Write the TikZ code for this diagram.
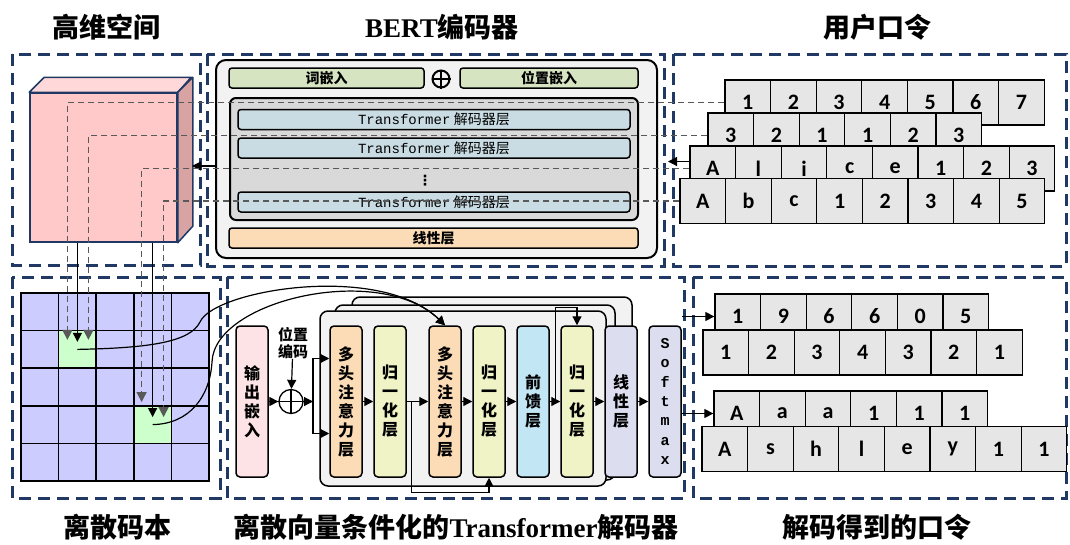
\documentclass[tikz,border=0pt]{standalone}
\usepackage{fontspec}
\setmainfont{Liberation Serif}
\setmonofont{Liberation Mono}
\newfontfamily\cjk{Noto Sans CJK SC}
\newfontfamily\tokfont{Carlito}
\newfontfamily\symfont{DejaVu Sans}
\usetikzlibrary{positioning,calc,arrows.meta}

\definecolor{navy}{HTML}{1F3864}
\definecolor{dashgray}{HTML}{595959}
\definecolor{cubepink}{HTML}{FFC9C9}
\definecolor{cubetop}{HTML}{FFD9D9}
\definecolor{cubeside}{HTML}{D8A3A3}
\definecolor{cellblue}{HTML}{CCCCFF}
\definecolor{cellgreen}{HTML}{CCFFCC}
\definecolor{tokgray}{HTML}{E6E6E6}
\definecolor{panelgray}{HTML}{F2F2F2}
\definecolor{stackgray}{HTML}{D9D9D9}
\definecolor{embgreen}{HTML}{D6E4C2}
\definecolor{layerblue}{HTML}{CADCE3}
\definecolor{peach}{HTML}{FCDCB6}
\definecolor{normyel}{HTML}{F0F3C6}
\definecolor{ffblue}{HTML}{C3E6F5}
\definecolor{lavender}{HTML}{DCDDEE}
\definecolor{embpink}{HTML}{FDE3E5}

\tikzset{
    region/.style={draw=navy, line width=3pt, dash pattern=on 12pt off 7pt},
    title/.style={font=\cjk\bfseries\fontsize{27}{27}\selectfont},
    tok/.style={draw, fill=tokgray, line width=1.3pt, minimum width=45.6pt, minimum height=45pt, inner sep=0pt, font=\tokfont\bfseries\fontsize{22}{22}\selectfont},
    cell/.style={draw, fill=cellblue, line width=1.5pt, minimum size=37.6pt, inner sep=0pt},
    dline/.style={draw=dashgray, line width=1.5pt, dash pattern=on 6pt off 4pt, -{Triangle[length=10pt,width=10pt]}},
    arr/.style={line width=1.2pt, -{Triangle[length=9pt,width=9pt]}},
    bar/.style={draw, line width=1.5pt, rounded corners=3pt, minimum height=20pt, inner sep=0pt},
    blk/.style={draw, rounded corners=4pt, line width=1.5pt, minimum width=32pt, minimum height=151pt, inner sep=0pt, align=center, font=\cjk\bfseries\fontsize{16}{19}\selectfont},
    pan/.style={draw, fill=panelgray, rounded corners=8pt, line width=1.5pt, minimum height=175pt},
    oplus/.style={circle, draw, inner sep=0pt}
}

\begin{document}
\begin{tikzpicture}[x=1pt, y=-1pt, node distance=10.5pt]
\useasboundingbox (0,0) rectangle (1070,544);

\node[title] (tA) at (106,27) {高维空间};
\node[title] (tB) at (442,27) {{\rmfamily BERT}编码器};
\node[title] (tC) at (877,27) {用户口令};
\node[title] (tD) at (117,527) {离散码本};
\node[title] (tE) at (456,527) {离散向量条件化的{\rmfamily Transformer}解码器};
\node[title] (tF) at (877,527) {解码得到的口令};

\draw[region] (12,54) rectangle (200,265);
\draw[region] (207,54) rectangle (664,266);
\draw[region] (673,54) rectangle (1066,266);
\draw[region] (12,277) rectangle (220,498);
\draw[region] (227,277) rectangle (684,498);
\draw[region] (693,277) rectangle (1066,498);

% cube
\node[draw=navy, fill=cubepink, line width=1.5pt, minimum width=147pt, minimum height=149pt] (cube) at (103.5,167.5) {};
\filldraw[draw=navy, fill=cubetop, line width=1.5pt, line join=round] (cube.north west) -- ++(15,-15) -- ++(147,0) -- (cube.north east) -- cycle;
\filldraw[draw=navy, fill=cubeside, line width=1.5pt, line join=round] (cube.north east) -- ++(15,-15) -- ++(0,149) -- (cube.south east) -- cycle;
\coordinate (cubeR) at (192,166);

% codebook
\foreach \r in {1,...,5}
  \foreach \c in {1,...,5}
    \node[cell] (g-\r-\c) at ({21+37.6*(\c-0.5)},{293+37.6*(\r-0.5)}) {};
\node[cell, fill=cellgreen] (hit1) at (g-2-2) {};
\node[cell, fill=cellgreen] (hit2) at (g-4-4) {};

% BERT encoder
\node[draw, fill=panelgray, line width=2pt, rounded corners=10pt, minimum width=441pt, minimum height=198pt] (bert) at (436.5,159) {};
\node[bar, fill=embgreen, minimum width=195pt, font=\cjk\bfseries\fontsize{14}{14}\selectfont] (wemb) at (326.5,78) {词嵌入};
\node[bar, fill=embgreen, minimum width=178pt, font=\cjk\bfseries\fontsize{14}{14}\selectfont] (pemb) at (549,78) {位置嵌入};
\node[oplus, line width=2pt, minimum size=17pt] (add1) at (441,79) {};
\draw[line width=2pt] (add1.north) -- (add1.south) (add1.west) -- (add1.east);
\node[draw, fill=stackgray, line width=2pt, rounded corners=6pt, minimum width=408pt, minimum height=122pt] (stack) at (434,159) {};
\node[bar, fill=layerblue, minimum width=392pt, font=\fontsize{14}{14}\selectfont] (tl1) at (434,119.5) {{\ttfamily Transformer} {\cjk 解码器层}};
\node[bar, fill=layerblue, minimum width=392pt, font=\fontsize{14}{14}\selectfont] (tl2) at (434,148) {{\ttfamily Transformer} {\cjk 解码器层}};
\node[font=\symfont\bfseries\fontsize{14}{14}\selectfont] (vd) at (425,181) {⋮};
\node[bar, fill=layerblue, minimum width=392pt, font=\fontsize{14}{14}\selectfont] (tl3) at (434,202) {{\ttfamily Transformer} {\cjk 解码器层}};
\node[bar, fill=peach, minimum width=409pt, font=\cjk\bfseries\fontsize{14}{14}\selectfont] (lin0) at (433.5,238) {线性层};

% user passwords
\foreach \t [count=\i from 0] in {1,2,3,4,5,6,7}
  \node[tok] (u1-\i) at ({725+45.6*\i+22.8},102.5) {\t};
\foreach \t [count=\i from 0] in {3,2,1,1,2,3}
  \node[tok] (u2-\i) at ({708+45.6*\i+22.8},135.5) {\t};
\foreach \t [count=\i from 0] in {A,l,i,c,e,1,2,3}
  \node[tok] (u3-\i) at ({690+45.6*\i+22.8},168.5) {\t};
\foreach \t [count=\i from 0] in {A,b,c,1,2,3,4,5}
  \node[tok] (u4-\i) at ({680+45.6*\i+22.8},201) {\t};
\coordinate (inB) at (668,161.5);

% decoded passwords
\foreach \t [count=\i from 0] in {1,9,6,6,0,5}
  \node[tok] (o1-\i) at ({715+45.6*\i+22.8},316.5) {\t};
\foreach \t [count=\i from 0] in {1,2,3,4,3,2,1}
  \node[tok] (o2-\i) at ({703+45.6*\i+22.8},352.5) {\t};
\foreach \t [count=\i from 0] in {A,a,a,1,1,1}
  \node[tok] (o3-\i) at ({714+45.6*\i+22.8},413.5) {\t};
\foreach \t [count=\i from 0] in {A,s,h,l,e,y,1,1}
  \node[tok] (o4-\i) at ({702+45.6*\i+22.8},449) {\t};

% decoder
\node[pan, minimum width=280pt] (back) at (492,384.5) {};
\node[pan, minimum width=280pt] (mid) at (475,392.5) {};
\node[pan, minimum width=286pt] (front) at (463,398.5) {};
\node[blk, fill=embpink] (emb) at (252,401.5) {输\\出\\嵌\\入};
\node[oplus, line width=1.3pt, minimum size=24pt] (add2) at (291,401.5) {};
\draw[line width=1.3pt] (add2.north) -- (add2.south) (add2.west) -- (add2.east);
\node[align=center, inner sep=0pt, font=\cjk\bfseries\fontsize{15}{17}\selectfont] (pe) at (293,343) {位置\\编码};
\coordinate (sp) at (313,401.5);
\node[blk, fill=peach] (mha1) at (346,401.5) {多\\头\\注\\意\\力\\层};
\node[blk, fill=normyel, right=of mha1] (norm1) {归\\一\\化\\层};
\node[blk, fill=peach, right=21.5pt of norm1] (mha2) {多\\头\\注\\意\\力\\层};
\node[blk, fill=normyel, right=of mha2] (norm2) {归\\一\\化\\层};
\node[blk, fill=ffblue, right=of norm2] (ff) {前\\馈\\层};
\node[blk, fill=normyel, right=of ff] (norm3) {归\\一\\化\\层};
\node[blk, fill=lavender, right=of norm3] (lin) {线\\性\\层};
\node[blk, fill=lavender, right=of lin, font=\ttfamily\bfseries\fontsize{15}{19.3}\selectfont] (soft) {S\\o\\f\\t\\m\\a\\x};

\draw[arr] (emb) -- (add2);
\draw[arr] (pe) -- (add2);
\draw[arr] (add2) -- (sp);
\draw[arr] (sp) |- ($(mha1.west)+(0,-43)$);
\draw[arr] (sp) |- ($(mha1.west)+(0,32)$);
\draw[arr] (mha1) -- (norm1);
\draw[arr] (norm1) -- (mha2);
\draw[arr] ($(norm1.east)+(5,0)$) |- ($(norm2.south)+(0,15)$) -- (norm2.south);
\draw[arr] (mha2) -- (norm2);
\draw[arr] (norm2) -- (ff);
\draw[arr] (ff) -- (norm3);
\draw[arr] ($(ff.east)+(6,0)$) |- ($(norm3.north)+(0,-18)$) -- (norm3.north);
\draw[arr] (norm3) -- (lin);
\draw[arr] (lin) -- (soft);
\draw[arr] (soft.east |- o1-0.west) -- (o1-0.west);
\draw[arr] (soft.east |- o3-0.west) -- (o3-0.west);

% codebook vectors into the decoder
\draw[arr] (hit1.center) .. controls (150,348) and (190,342) .. (200,322) .. controls (214,290) and (380,262) .. (mha2.north);
\draw[arr] (hit2.center) .. controls (190,424) and (210,396) .. (212,362) .. controls (214,300) and (380,262) .. (mha2.north);

% encoder links
\draw[arr] (bert.west |- cubeR) -- (cubeR);
\draw[arr] (u3-0.west |- inB) -- (inB);
\draw[dline] (u1-0.west) -| ($(hit1.north)+(-10,10)$);
\draw[dline] (u2-0.west) -| ($(hit1.north)+(11,10)$);
\draw[dline] (u3-0.west) -| ($(hit2.north)+(-11,-3)$);
\draw[dline] (u4-0.west) -| ($(hit2.north)+(11,12)$);
\draw[arr] (cube.south -| hit1) -- ($(hit1.north)+(0,12)$);
\draw[arr] (cube.south -| hit2) -- ($(hit2.north)+(0,12)$);
\end{tikzpicture}
\end{document}
